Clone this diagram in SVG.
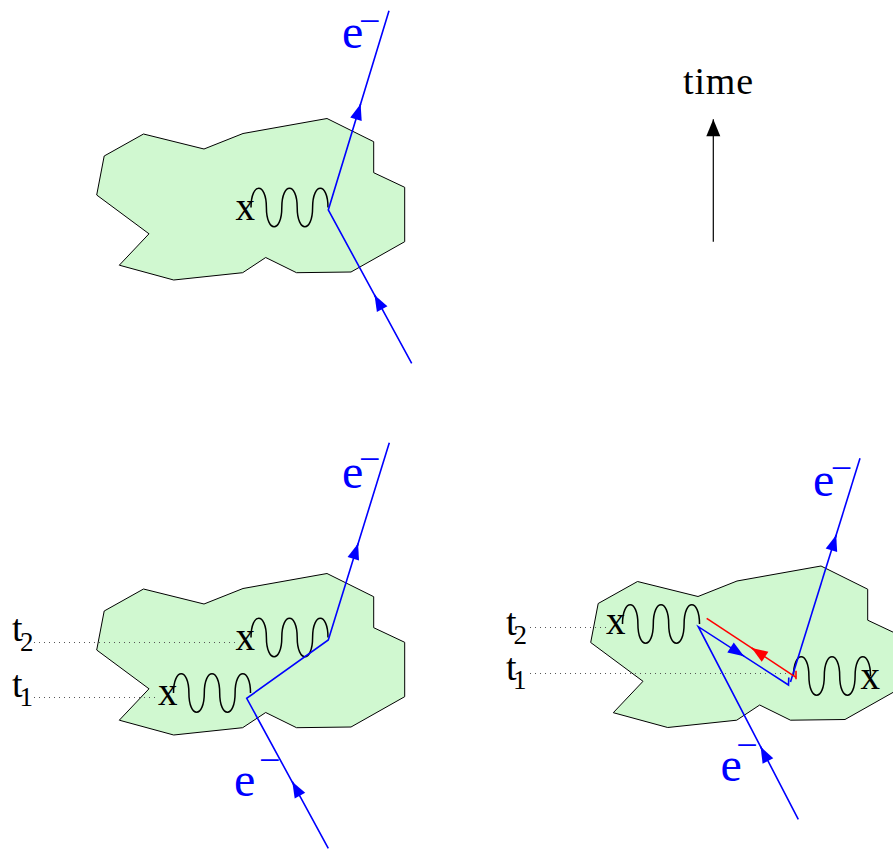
<svg xmlns="http://www.w3.org/2000/svg" xmlns:xlink="http://www.w3.org/1999/xlink" width="893" height="850" viewBox="0 0 893 850">
<style>
.lbl{font-family:"Liberation Serif","Times New Roman",serif;fill:#000}
.x{font-size:39px}
.t{font-size:38px}
.sub{font-size:27px}
.el{font-family:"Liberation Serif","Times New Roman",serif;fill:#0000ff;font-size:48px}
.mn{font-size:38px}
.blue{fill:none;stroke:#0000ff;stroke-width:1.6}
.red{fill:none;stroke:#ff0000;stroke-width:1.6}
.ab{fill:none;stroke:#0000ff;stroke-width:1.6;marker-end:url(#arrB)}
.ar{fill:none;stroke:#ff0000;stroke-width:1.6;marker-end:url(#arrR)}
.dot{fill:none;stroke:#555;stroke-width:1;stroke-dasharray:1 4}
</style>
<defs>
<polygon id="blob" fill="#d0f8d0" stroke="#000" stroke-width="1" points="143.5,134 204,149 243,133.5 327,118.5 373.7,141.7 373.7,172.7 404.7,187.3 404.7,241.7 351,272 296.5,272.7 265.7,257.5 242.7,272.7 173.7,280 119.3,265.2 149,233.8 96.7,195 104.2,156"/>
<path id="wave" fill="none" stroke="#000" stroke-width="1.5" d="M0,0 c0,-25.6 15.4,-25.6 15.4,0 c0,25.6 15.4,25.6 15.4,0 c0,-25.6 15.4,-25.6 15.4,0 c0,25.6 15.4,25.6 15.4,0 c0,-25.6 15.4,-25.6 15.4,0"/>
<marker id="arrB" markerUnits="userSpaceOnUse" orient="auto" refX="0" refY="0" markerWidth="20" markerHeight="20" overflow="visible"><path d="M0,0 L-16,-6 L-16,6 Z" fill="#0000ff"/></marker>
<marker id="arrR" markerUnits="userSpaceOnUse" orient="auto" refX="0" refY="0" markerWidth="20" markerHeight="20" overflow="visible"><path d="M0,0 L-16,-6 L-16,6 Z" fill="#ff0000"/></marker>
<marker id="arrK" markerUnits="userSpaceOnUse" orient="auto" refX="0" refY="0" markerWidth="20" markerHeight="20" overflow="visible"><path d="M0,0 L-17,-7 L-17,7 Z" fill="#000"/></marker>
</defs>

<g id="blob-top"><use xlink:href="#blob"/></g>
<g id="blob-bottom-left"><use xlink:href="#blob" transform="translate(0,455)"/></g>
<g id="blob-bottom-right"><use xlink:href="#blob" transform="translate(494,447.5)"/></g>

<g id="guides">
<line class="dot" x1="34" y1="642.5" x2="236" y2="642.5"/>
<line class="dot" x1="34" y1="697.5" x2="158" y2="697.5"/>
<line class="dot" x1="530" y1="627.5" x2="606" y2="627.5"/>
<line class="dot" x1="530" y1="673.5" x2="793" y2="673.5"/>
</g>

<g id="waves">
<use xlink:href="#wave" x="251" y="207.5"/>
<use xlink:href="#wave" x="251" y="637.5"/>
<use xlink:href="#wave" x="173.5" y="693"/>
<use xlink:href="#wave" x="622.5" y="624"/>
<use xlink:href="#wave" x="793.5" y="676"/>
</g>

<g id="connectors">
<path class="blue" d="M411.7,363.3 L328.3,210 L389,10.7"/>
<path class="ab" d="M379.3,303.8 L374.5,295"/>
<path class="ab" d="M357.7,113.6 L360.6,104"/>

<path class="blue" d="M328.3,848.3 L246.7,698.3 L328.3,640 L389.3,442.7"/>
<path class="ab" d="M297.1,790.5 L292.3,781.7"/>
<path class="ab" d="M355.1,553 L358.1,543.5"/>

<path class="blue" d="M798.3,819.3 L698.3,626.7 L788.5,685 L788.8,677.5"/>
<path class="blue" d="M790.5,682 L860,458.3"/>
<path class="ab" d="M765.2,755.6 L760.6,746.7"/>
<path class="ab" d="M735.6,650.8 L744,656.2"/>
<path class="ab" d="M833.2,544.6 L836.2,535"/>

<path class="red" d="M796,677.3 L706.7,618.3"/>
<path class="red" d="M796,670.7 L796,679.3"/>
<path class="ar" d="M760,653.5 L751.7,648"/>

<path fill="none" stroke="#000" stroke-width="1.2" marker-end="url(#arrK)" d="M713.3,241.7 L713.3,119.3"/>
</g>

<g id="labels">
<text class="lbl" x="683" y="93.5" font-size="38" textLength="70" lengthAdjust="spacing">time</text>
<text class="lbl x" x="235.5" y="219.5">x</text>
<text class="lbl x" x="235.5" y="649.5">x</text>
<text class="lbl x" x="158" y="705">x</text>
<text class="lbl x" x="606" y="634">x</text>
<text class="lbl x" x="860.5" y="689">x</text>

<text class="lbl t" x="12" y="641">t<tspan class="sub" x="20" y="651">2</tspan></text>
<text class="lbl t" x="12" y="697">t<tspan class="sub" x="19.5" y="705.5">1</tspan></text>
<text class="lbl t" x="506" y="635">t<tspan class="sub" x="513.5" y="644">2</tspan></text>
<text class="lbl t" x="506" y="680">t<tspan class="sub" x="513" y="689">1</tspan></text>

<text class="el" x="342" y="48">e<tspan class="mn" x="359" y="33.5">−</tspan></text>
<text class="el" x="342" y="488">e<tspan class="mn" x="359" y="472.2">−</tspan></text>
<text class="el" x="234" y="796.3">e<tspan class="mn" x="259" y="772.8">−</tspan></text>
<text class="el" x="813" y="495.7">e<tspan class="mn" x="830.7" y="481.2">−</tspan></text>
<text class="el" x="720.5" y="781.3">e<tspan class="mn" x="736.3" y="757.8">−</tspan></text>
</g>
</svg>
